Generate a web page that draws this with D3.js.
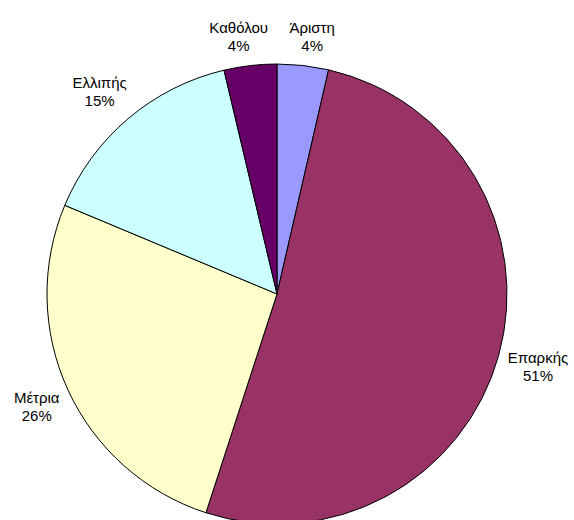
<!DOCTYPE html>
<html>
<head>
<meta charset="utf-8">
<script src="https://cdn.jsdelivr.net/npm/d3@7"></script>
<style>
  html, body { margin: 0; padding: 0; background: #fff; }
  svg { display: block; }
</style>
</head>
<body>
<svg id="chart" width="574" height="520"></svg>
<script>
// Answer categories, in clockwise order from 12 o'clock
const categories = ["Άριστη", "Επαρκής", "Μέτρια", "Ελλιπής", "Καθόλου"];
// Share of responses (%)
const values = [3.6, 51.4, 26.3, 15.0, 3.7];
// Slice fills
const colors = ["#9999FF", "#993366", "#FFFFCC", "#CCFFFF", "#660066"];

const svg = d3.select("#chart");
const cx = 277, cy = 294, radius = 230;

const data = categories.map((c, i) => ({ name: c, value: values[i], color: colors[i] }));
const total = d3.sum(values);

const pie = d3.pie().value(d => d.value).sort(null);
const arcs = pie(data);
const arc = d3.arc().innerRadius(0).outerRadius(radius);

const g = svg.append("g").attr("transform", `translate(${cx},${cy})`);

g.selectAll("path.slice")
  .data(arcs)
  .enter().append("path")
  .attr("class", "slice")
  .attr("d", arc)
  .attr("fill", d => d.data.color)
  .attr("stroke", "#000")
  .attr("stroke-width", 1)
  .attr("stroke-linejoin", "round");

// Labels outside the pie: anchor just beyond the rim on the slice's
// mid-angle, then shift the text block outward by a share of its size.
const fmt = v => Math.round(v / total * 100) + "%";
const labelR = radius + 8;
const clamp = v => Math.max(-1, Math.min(1, v));
const sgnSqrt = v => Math.sign(v) * Math.sqrt(Math.abs(v));

arcs.forEach(a => {
  const mid = (a.startAngle + a.endAngle) / 2;
  const s = Math.sin(mid), c = Math.cos(mid);
  const px = s * labelR, py = -c * labelR;

  const lab = g.append("text")
    .attr("font-family", "'Liberation Sans', Arial, sans-serif")
    .attr("font-size", 15)
    .attr("fill", "#000")
    .attr("text-anchor", "middle");
  lab.append("tspan").attr("x", 0).attr("dy", 0).text(a.data.name);
  lab.append("tspan").attr("x", 0).attr("dy", 18).text(fmt(a.data.value));

  const bb = lab.node().getBBox();
  const w = bb.width + 4, h = bb.height + 8;
  const tx = px + sgnSqrt(s) * w / 2;
  const ty = py - clamp(c * 1.5) * h / 2;
  const bcx = bb.x + bb.width / 2, bcy = bb.y + bb.height / 2;
  lab.attr("transform", `translate(${tx - bcx},${ty - bcy})`);
});
</script>
</body>
</html>
